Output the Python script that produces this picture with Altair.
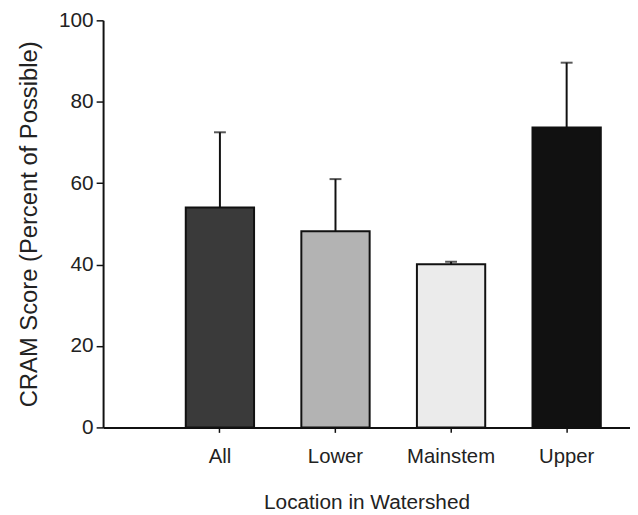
import altair as alt
import pandas as pd

categories = ["All", "Lower", "Mainstem", "Upper"]
means = [54.0, 48.2, 40.1, 73.7]
upper_err = [72.5, 61.0, 40.7, 89.6]
fills = ["#3a3a3a", "#b3b3b3", "#ebebeb", "#111111"]

df = pd.DataFrame({"loc": categories, "mean": means, "hi": upper_err, "fill": fills})

FONT = "Liberation Sans"
TXT = "#222222"

xscale = alt.Scale(domain=categories, paddingInner=0.409, paddingOuter=0.484, align=0.739)
yscale = alt.Scale(domain=[0, 100])

xenc = alt.X("loc:N", scale=xscale, sort=None,
             axis=alt.Axis(title="Location in Watershed", labelAngle=0,
                           labelFontSize=20.5, titleFontSize=21, labelColor=TXT, titleColor=TXT,
                           labelFont=FONT, titleFont=FONT, titleFontWeight="normal",
                           tickSize=5, tickWidth=1.5, tickColor="#111", labelPadding=14,
                           titlePadding=25, domainColor="#111", domainWidth=2))

bars = alt.Chart(df).mark_bar(stroke="#111", strokeWidth=2).encode(
    x=xenc,
    y=alt.Y("mean:Q", scale=yscale,
            axis=alt.Axis(title="CRAM Score (Percent of Possible)", values=[0, 20, 40, 60, 80, 100],
                          grid=False, labelFontSize=21, titleFontSize=24, labelColor=TXT, titleColor=TXT,
                          labelFont=FONT, titleFont=FONT, titleFontWeight="normal",
                          tickSize=7, tickWidth=1.5, tickColor="#111", labelPadding=3,
                          titlePadding=17, domainColor="#111", domainWidth=2)),
    fill=alt.Fill("fill:N", scale=None),
)

err = alt.Chart(df).mark_rule(color="#111", strokeWidth=2).encode(
    x=alt.X("loc:N", scale=xscale, sort=None),
    y=alt.Y("mean:Q", scale=yscale),
    y2="hi:Q",
)

cap = alt.Chart(df).mark_tick(color="#111", size=12, thickness=2).encode(
    x=alt.X("loc:N", scale=xscale, sort=None),
    y=alt.Y("hi:Q", scale=yscale),
)

chart = alt.layer(bars, err, cap).properties(
    width=532, height=411,
    autosize=alt.AutoSizeParams(type="none"),
    padding={"left": 96, "top": 10, "right": 0, "bottom": 90},
).configure_view(stroke=None)

chart.save("out.html", embed_options={"renderer": "svg", "actions": False})
